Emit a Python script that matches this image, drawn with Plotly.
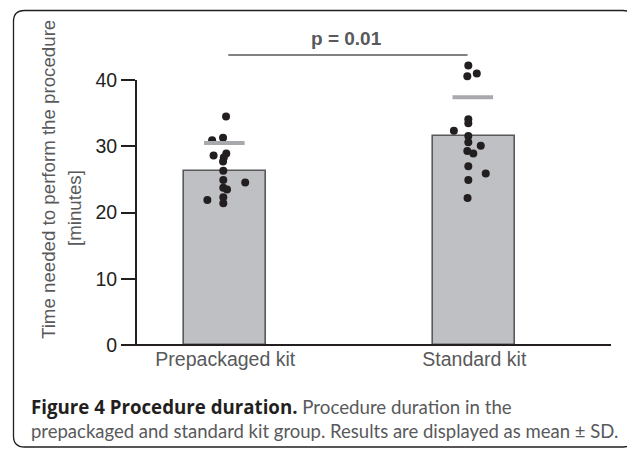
import plotly.graph_objects as go

# ---- data ----
categories = ["Prepackaged kit", "Standard kit"]
means = [26.3, 31.6]
mean_plus_sd = [30.5, 37.4]

prepackaged_values = [34.5, 31.3, 30.9, 28.9, 28.6, 28.3, 27.7, 26.3, 24.9, 24.55,
                      23.75, 23.5, 22.3, 21.9, 21.4]
prepackaged_jitter = [0.003, -0.009, -0.053, 0.004, -0.047, -0.006, -0.009, -0.008,
                      -0.008, 0.080, -0.008, 0.007, -0.008, -0.072, -0.008]
standard_values = [42.2, 41.0, 40.6, 34.1, 33.5, 32.35, 31.55, 30.6, 30.1, 29.3,
                   28.9, 27.0, 25.9, 24.9, 22.2]
standard_jitter = [-0.024, 0.010, -0.028, -0.024, -0.024, -0.082, -0.024, -0.024,
                   0.026, -0.028, -0.004, -0.024, 0.046, -0.024, -0.027]
y_ticks = [0, 10, 20, 30, 40]
p_label = "p = 0.01"
p_bracket_y = 43.8
y_title_1 = "Time needed to perform the procedure"
y_title_2 = "[minutes]"

# ---- layout geometry (pixels); page has an 8px body margin ----
OFF = 8
W, H = 635, 450
ML, MT = 136 - OFF, 47 - OFF
PW, PH = 475, 298
MR, MB = W - ML - PW, H - MT - PH


def px(x):
    """reference-image pixel x -> paper x"""
    return (x - OFF - ML) / PW


def py(y):
    """reference-image pixel y -> paper y"""
    return (MT + PH - (y - OFF)) / PH


TXT_DARK = "#231f20"
TXT_GRAY = "#58595b"
FONT = "Liberation Sans, Arial, sans-serif"

fig = go.Figure()

fig.add_trace(go.Bar(
    x=[0, 1], y=means, width=0.33,
    marker=dict(color="#bfc0c4", line=dict(color="#58595b", width=1.6)),
    hoverinfo="skip", showlegend=False,
))

fig.add_trace(go.Scatter(
    x=[0 + j for j in prepackaged_jitter], y=prepackaged_values, mode="markers",
    marker=dict(color=TXT_DARK, size=8), showlegend=False, cliponaxis=False,
))
fig.add_trace(go.Scatter(
    x=[1 + j for j in standard_jitter], y=standard_values, mode="markers",
    marker=dict(color=TXT_DARK, size=8), showlegend=False, cliponaxis=False,
))

# mean + SD markers
fig.add_trace(go.Scatter(
    x=[-0.004, 0.994], y=mean_plus_sd, mode="markers",
    marker=dict(symbol="line-ew", size=29, line=dict(color="#a7a9ac", width=4)),
    showlegend=False, cliponaxis=False,
))

shapes = []
# y axis line (0 to 40)
shapes.append(dict(type="line", xref="paper", yref="y", x0=0, x1=0, y0=0, y1=max(y_ticks),
                   line=dict(color=TXT_DARK, width=2)))
# x axis line (extends left by tick length)
shapes.append(dict(type="line", xref="paper", yref="paper", x0=-14 / PW, x1=1, y0=0, y1=0,
                   line=dict(color=TXT_DARK, width=2)))
# significance bracket
shapes.append(dict(type="line", xref="x", yref="y", x0=0.012, x1=0.973,
                   y0=p_bracket_y, y1=p_bracket_y, line=dict(color=TXT_GRAY, width=1.5)))

# rounded frame
L, T, R, B, r = 13.5, 10.5, 634, 447, 11
path = (f"M {px(L)},{py(T + r)} "
        f"Q {px(L)},{py(T)} {px(L + r)},{py(T)} "
        f"L {px(R - r)},{py(T)} "
        f"Q {px(R)},{py(T)} {px(R)},{py(T + r)} "
        f"L {px(R)},{py(B - r)} "
        f"Q {px(R)},{py(B)} {px(R - r)},{py(B)} "
        f"L {px(L + r)},{py(B)} "
        f"Q {px(L)},{py(B)} {px(L)},{py(B - r)} Z")
shapes.append(dict(type="path", xref="paper", yref="paper", path=path,
                   line=dict(color="#231f20", width=1.3), fillcolor="rgba(0,0,0,0)"))

annotations = [
    dict(x=0.487, y=p_bracket_y, xref="x", yref="y", text=f"<b>{p_label}</b>",
         showarrow=False, yanchor="bottom", yshift=4,
         font=dict(family=FONT, size=19, color=TXT_GRAY)),
    dict(x=px(48), y=py(180), xref="paper", yref="paper", text=y_title_1, textangle=-90,
         xanchor="center", yanchor="middle", showarrow=False,
         font=dict(family=FONT, size=18.7, color=TXT_GRAY)),
    dict(x=px(75), y=py(208), xref="paper", yref="paper", text=y_title_2, textangle=-90,
         xanchor="center", yanchor="middle", showarrow=False,
         font=dict(family=FONT, size=18.7, color=TXT_GRAY)),
    dict(x=px(29), y=py(406), xref="paper", yref="paper", xanchor="left", yanchor="middle",
         text=("<span style='font-family:Open Sans'><b>Figure 4 Procedure duration.</b></span> "
               f"<span style='color:{TXT_GRAY}'>Procedure duration in the</span>"),
         showarrow=False, font=dict(family="Lato, sans-serif", size=18.7, color=TXT_DARK)),
    dict(x=px(29), y=py(431), xref="paper", yref="paper", xanchor="left", yanchor="middle",
         text="prepackaged and standard kit group. Results are displayed as mean ± SD.",
         showarrow=False, font=dict(family="Lato, sans-serif", size=18.5, color=TXT_GRAY)),
]

fig.update_layout(
    width=W, height=H,
    margin=dict(l=ML, r=MR, t=MT, b=MB, pad=0),
    paper_bgcolor="white", plot_bgcolor="white",
    shapes=shapes, annotations=annotations,
    xaxis=dict(range=[-0.3586, 1.549], tickvals=[0, 1], ticktext=categories,
               showgrid=False, zeroline=False, showline=False, ticks="",
               tickfont=dict(family=FONT, size=19.5, color=TXT_GRAY), fixedrange=True),
    yaxis=dict(range=[0, 45], tickvals=y_ticks, ticks="outside", ticklen=14, tickwidth=2,
               tickcolor=TXT_DARK, showgrid=False, zeroline=False, showline=False,
               tickfont=dict(family=FONT, size=19.5, color=TXT_DARK), fixedrange=True),
    bargap=0,
)

fig.write_html("out.html")
